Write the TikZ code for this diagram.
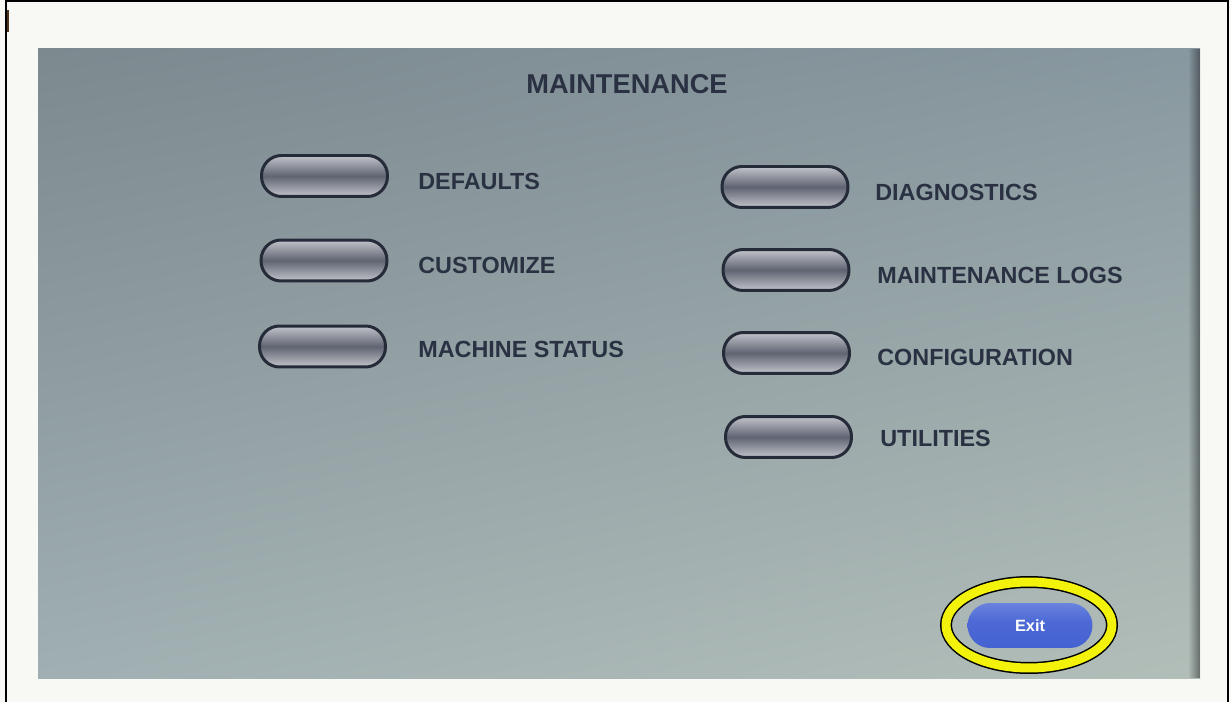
\documentclass[tikz,border=0pt]{standalone}
\usepackage{fontspec}
\usepackage{tikz}
\usetikzlibrary{shapes.geometric,fadings,shadings}

\newfontfamily\uifont{Liberation Sans}

\definecolor{pageBg}{HTML}{F8F9F4}
\definecolor{scrTL}{HTML}{7C898F}
\definecolor{scrTR}{HTML}{8898A0}
\definecolor{scrBL}{HTML}{A0AFB2}
\definecolor{scrBR}{HTML}{B2BEB8}
\definecolor{labelInk}{HTML}{2A3142}
\definecolor{btnEdge}{HTML}{262B39}
\definecolor{btnLight}{HTML}{C2C4CA}
\definecolor{btnMid}{HTML}{5F6472}
\definecolor{btnDark}{HTML}{454A58}
\definecolor{exitTop}{HTML}{8EA3EC}
\definecolor{exitBot}{HTML}{3D5BCF}
\definecolor{ringYellow}{HTML}{F2F20A}

\pgfdeclareverticalshading{btnshade}{100bp}{color(0bp)=(btnDark); color(25bp)=(btnLight); color(50bp)=(btnMid); color(75bp)=(btnLight); color(100bp)=(btnDark)}
\pgfdeclareverticalshading{exitshade}{100bp}{color(0bp)=(exitBot); color(55bp)=(exitBot!80!exitTop); color(100bp)=(exitTop)}

\tikzset{
  btnpill/.style={draw=btnEdge, line width=0.06cm, rounded corners=0.4cm,
    minimum width=2.52cm, minimum height=0.82cm, inner sep=0pt, shading=btnshade},
  menulabel/.style={anchor=west, inner sep=0pt, text=labelInk,
    font=\uifont\bfseries\fontsize{13.3}{16}\selectfont},
}

\begin{document}
\begin{tikzpicture}[x=0.02cm, y=-0.02cm]
	\useasboundingbox (0,0) rectangle (1231,702);
	\fill[pageBg] (0,0) rectangle (1231,702);

	% frame
	\draw[line width=0.055cm] (6,702) -- (6,1) -- (1228,1) -- (1228,702);
	\draw[line width=0.03cm, black!60!brown] (8,10) -- (8,32);

	% screen
	\shade[upper left=scrTL, upper right=scrTR, lower left=scrBL, lower right=scrBR]
		(38,49) rectangle (1200,678);
	\fill[black!80!scrTL, opacity=0.5, path fading=west] (1188,49) rectangle (1200,678);

	\node[inner sep=0pt, text=labelInk, font=\uifont\bfseries\fontsize{15.5}{18}\selectfont]
		(title) at (627,84) {MAINTENANCE};

	% left column
	\node[btnpill] (defaultsbtn) at (324.5,176) {};
	\node[menulabel] (defaults) at (418,181) {DEFAULTS};

	\node[btnpill] (customizebtn) at (324,260.5) {};
	\node[menulabel] (customize) at (418,265) {CUSTOMIZE};

	\node[btnpill] (statusbtn) at (322.5,346.5) {};
	\node[menulabel] (status) at (418,349) {MACHINE STATUS};

	% right column
	\node[btnpill] (diagbtn) at (785,187) {};
	\node[menulabel] (diag) at (875,192) {DIAGNOSTICS};

	\node[btnpill] (logsbtn) at (786,270) {};
	\node[menulabel] (logs) at (877,275) {MAINTENANCE LOGS};

	\node[btnpill] (configbtn) at (786.5,353) {};
	\node[menulabel] (config) at (877,357) {CONFIGURATION};

	\node[btnpill] (utilbtn) at (788.5,437) {};
	\node[menulabel] (util) at (880,438) {UTILITIES};

	% exit
	\node[rounded corners=0.45cm, minimum width=2.5cm, minimum height=0.9cm, inner sep=0pt,
		shading=exitshade, text=white, font=\uifont\bfseries\fontsize{9.3}{11}\selectfont]
		(exit) at (1030,625.5) {Exit};
	\node[ellipse, draw=black, line width=0.03cm, double=ringYellow, double distance=0.18cm,
		minimum width=3.32cm, minimum height=1.72cm, inner sep=0pt]
		(exitring) at (1029,625) {};
\end{tikzpicture}
\end{document}
